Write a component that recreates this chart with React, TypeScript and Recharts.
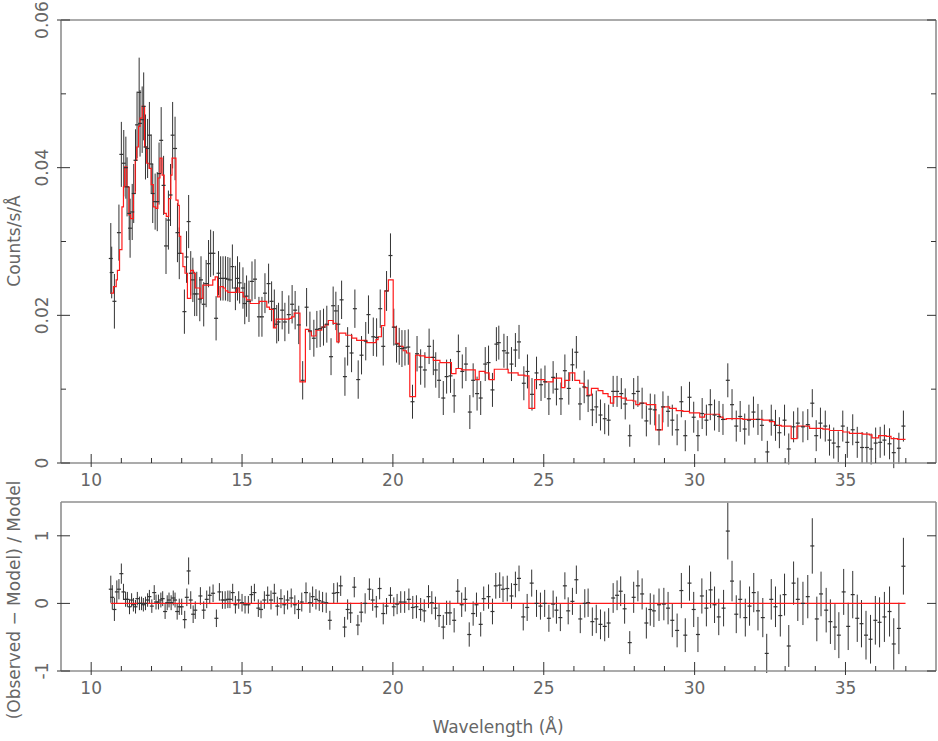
import React from 'react';
import { ComposedChart, Scatter, Line, XAxis, YAxis, ErrorBar } from 'recharts';

// [wavelength (Å), counts/s/Å, 1σ error]
const spectrum: [number, number, number][] = [
  [10.65, 0.0277, 0.0048], [10.68, 0.0258, 0.0035], [10.77, 0.0219, 0.0037], [10.92, 0.0312, 0.0038],
  [11.0, 0.0418, 0.0044], [11.08, 0.0406, 0.0045], [11.15, 0.04, 0.0042], [11.19, 0.0374, 0.004],
  [11.26, 0.0338, 0.0036], [11.29, 0.0318, 0.004], [11.36, 0.034, 0.0038], [11.41, 0.0365, 0.004],
  [11.47, 0.041, 0.0042], [11.52, 0.0458, 0.0045], [11.59, 0.0502, 0.0047], [11.62, 0.046, 0.0045],
  [11.69, 0.0465, 0.0045], [11.74, 0.0483, 0.0046], [11.8, 0.0428, 0.0044], [11.87, 0.0426, 0.004],
  [11.93, 0.0444, 0.0045], [11.99, 0.0405, 0.004], [12.04, 0.0365, 0.004], [12.12, 0.0354, 0.0038],
  [12.19, 0.0354, 0.004], [12.25, 0.0392, 0.0042], [12.32, 0.0437, 0.0045], [12.4, 0.0376, 0.004],
  [12.48, 0.0294, 0.0038], [12.56, 0.0329, 0.004], [12.63, 0.0363, 0.0042], [12.7, 0.0444, 0.0045],
  [12.78, 0.0426, 0.0043], [12.86, 0.0312, 0.004], [12.92, 0.0284, 0.0035], [13.09, 0.0205, 0.003],
  [13.16, 0.0279, 0.0035], [13.23, 0.0327, 0.0036], [13.3, 0.0257, 0.003], [13.37, 0.0248, 0.003],
  [13.43, 0.0229, 0.003], [13.5, 0.0229, 0.003], [13.6, 0.0222, 0.003], [13.64, 0.0248, 0.0032],
  [13.73, 0.0215, 0.003], [13.81, 0.0243, 0.0032], [13.89, 0.027, 0.0032], [13.96, 0.0284, 0.0032],
  [14.05, 0.0284, 0.003], [14.14, 0.0196, 0.003], [14.22, 0.0257, 0.003], [14.29, 0.025, 0.003],
  [14.37, 0.025, 0.003], [14.45, 0.025, 0.003], [14.53, 0.0249, 0.003], [14.6, 0.0248, 0.003],
  [14.68, 0.0266, 0.003], [14.78, 0.0237, 0.003], [14.85, 0.025, 0.003], [14.92, 0.0244, 0.0028],
  [15.03, 0.0237, 0.0028], [15.09, 0.0216, 0.0028], [15.15, 0.0226, 0.0028], [15.23, 0.0219, 0.0028],
  [15.33, 0.0246, 0.0027], [15.43, 0.0249, 0.0027], [15.56, 0.0198, 0.0027], [15.66, 0.0198, 0.0027],
  [15.76, 0.023, 0.0027], [15.88, 0.0243, 0.0027], [15.98, 0.0219, 0.0027], [16.07, 0.0209, 0.0026],
  [16.15, 0.0188, 0.0026], [16.21, 0.0191, 0.0026], [16.33, 0.0207, 0.0026], [16.42, 0.0191, 0.0026],
  [16.55, 0.0201, 0.0026], [16.66, 0.0215, 0.0026], [16.76, 0.0207, 0.0026], [16.88, 0.0187, 0.0026],
  [17.01, 0.0112, 0.0026], [17.14, 0.0211, 0.0026], [17.25, 0.0179, 0.0026], [17.38, 0.0169, 0.0025],
  [17.48, 0.0181, 0.0025], [17.59, 0.0182, 0.0025], [17.7, 0.0184, 0.0025], [17.81, 0.0188, 0.0025],
  [17.95, 0.0144, 0.0025], [18.02, 0.0213, 0.0026], [18.11, 0.0206, 0.0026], [18.19, 0.0188, 0.0026],
  [18.3, 0.0221, 0.0026], [18.41, 0.0117, 0.0026], [18.5, 0.0158, 0.0026], [18.63, 0.0149, 0.0026],
  [18.74, 0.0209, 0.0026], [18.85, 0.0113, 0.0026], [18.96, 0.0146, 0.0026], [19.1, 0.0165, 0.0026],
  [19.19, 0.0201, 0.0026], [19.35, 0.0171, 0.0026], [19.46, 0.017, 0.0026], [19.58, 0.0209, 0.0026],
  [19.68, 0.0158, 0.0026], [19.79, 0.0233, 0.0027], [19.92, 0.0281, 0.003], [20.03, 0.0184, 0.0025],
  [20.12, 0.0161, 0.0025], [20.21, 0.0158, 0.0025], [20.3, 0.0155, 0.0025], [20.4, 0.0156, 0.0024],
  [20.51, 0.0157, 0.0024], [20.65, 0.0083, 0.0023], [20.8, 0.0148, 0.0024], [20.92, 0.013, 0.0024],
  [21.06, 0.0126, 0.0024], [21.2, 0.0158, 0.0024], [21.34, 0.0143, 0.0024], [21.42, 0.0126, 0.0024],
  [21.53, 0.0112, 0.0024], [21.67, 0.0088, 0.0023], [21.78, 0.0117, 0.0023], [21.91, 0.0118, 0.0023],
  [22.03, 0.0091, 0.0023], [22.17, 0.0151, 0.0023], [22.3, 0.0124, 0.0023], [22.42, 0.0134, 0.0023],
  [22.55, 0.0069, 0.0023], [22.66, 0.0112, 0.0023], [22.79, 0.0094, 0.0023], [22.91, 0.0088, 0.0023],
  [23.06, 0.0134, 0.0023], [23.17, 0.0136, 0.0023], [23.3, 0.0099, 0.0023], [23.43, 0.0161, 0.0023],
  [23.51, 0.0163, 0.0023], [23.68, 0.0152, 0.0023], [23.79, 0.0149, 0.0023], [23.93, 0.0134, 0.0023],
  [24.06, 0.0153, 0.0023], [24.18, 0.0164, 0.0023], [24.34, 0.0108, 0.0023], [24.46, 0.0124, 0.0023],
  [24.61, 0.0093, 0.0022], [24.76, 0.0122, 0.0022], [24.91, 0.0106, 0.0022], [25.04, 0.011, 0.0022],
  [25.17, 0.0087, 0.0022], [25.31, 0.0116, 0.0022], [25.42, 0.01, 0.0022], [25.57, 0.0087, 0.0022],
  [25.7, 0.0125, 0.0022], [25.83, 0.0101, 0.0022], [25.95, 0.0133, 0.0022], [26.08, 0.015, 0.0022],
  [26.2, 0.008, 0.0022], [26.34, 0.0103, 0.0022], [26.47, 0.0091, 0.0022], [26.61, 0.0072, 0.0022],
  [26.74, 0.0076, 0.0022], [26.88, 0.0065, 0.0021], [27.02, 0.006, 0.0021], [27.15, 0.0058, 0.0021],
  [27.3, 0.0097, 0.0021], [27.43, 0.0097, 0.0021], [27.57, 0.0094, 0.0021], [27.7, 0.008, 0.0021],
  [27.85, 0.0037, 0.0015], [27.98, 0.0094, 0.0021], [28.12, 0.0097, 0.0021], [28.26, 0.0081, 0.0021],
  [28.4, 0.0057, 0.0021], [28.53, 0.0073, 0.0021], [28.68, 0.0072, 0.0021], [28.82, 0.0045, 0.0021],
  [28.95, 0.0076, 0.0021], [29.12, 0.007, 0.0021], [29.26, 0.0058, 0.0021], [29.42, 0.0045, 0.0021],
  [29.56, 0.0083, 0.0021], [29.69, 0.0037, 0.0021], [29.83, 0.0089, 0.0021], [29.97, 0.0062, 0.0021],
  [30.11, 0.0037, 0.0021], [30.25, 0.0067, 0.0021], [30.39, 0.0058, 0.0021], [30.52, 0.0079, 0.0021],
  [30.66, 0.0065, 0.0021], [30.81, 0.0063, 0.0021], [30.94, 0.0059, 0.0021], [31.1, 0.0112, 0.0023],
  [31.24, 0.0079, 0.0021], [31.38, 0.005, 0.0021], [31.51, 0.0063, 0.0021], [31.66, 0.0046, 0.0021],
  [31.8, 0.0058, 0.0021], [31.95, 0.0069, 0.0021], [32.1, 0.0059, 0.0021], [32.23, 0.0051, 0.0021],
  [32.41, 0.0015, 0.0015], [32.54, 0.0058, 0.0021], [32.68, 0.0051, 0.0021], [32.81, 0.0041, 0.0021],
  [32.98, 0.0058, 0.0021], [33.12, 0.0019, 0.0021], [33.28, 0.0049, 0.0021], [33.42, 0.0054, 0.0021],
  [33.59, 0.0049, 0.0021], [33.75, 0.0052, 0.0021], [33.9, 0.0081, 0.0019], [34.03, 0.0037, 0.0021],
  [34.17, 0.0054, 0.0021], [34.33, 0.005, 0.0021], [34.47, 0.0031, 0.0021], [34.61, 0.0027, 0.0021],
  [34.76, 0.0022, 0.0021], [34.91, 0.005, 0.0021], [35.06, 0.0028, 0.0021], [35.24, 0.0045, 0.0021],
  [35.39, 0.0028, 0.0021], [35.55, 0.0021, 0.0021], [35.71, 0.0021, 0.0021], [35.85, 0.0019, 0.0021],
  [36.0, 0.0027, 0.0021], [36.15, 0.0028, 0.0021], [36.29, 0.0031, 0.0021], [36.46, 0.0026, 0.0021],
  [36.6, 0.0014, 0.0021], [36.77, 0.002, 0.0021], [36.92, 0.005, 0.0021],
];

// model histogram: [bin start (Å), counts/s/Å]
const model: [number, number][] = [
  [10.65, 0.023], [10.74, 0.0239], [10.83, 0.0248], [10.87, 0.0261], [10.94, 0.0289], [11.02, 0.0347],
  [11.07, 0.0374], [11.11, 0.0401], [11.18, 0.0374], [11.25, 0.0336], [11.31, 0.0331], [11.4, 0.0365],
  [11.46, 0.041], [11.51, 0.0428], [11.57, 0.0456], [11.62, 0.0467], [11.69, 0.0483], [11.77, 0.0428],
  [11.84, 0.0406], [11.92, 0.0399], [11.99, 0.0377], [12.06, 0.0347], [12.14, 0.0345], [12.21, 0.0386],
  [12.28, 0.0413], [12.35, 0.039], [12.42, 0.0338], [12.49, 0.0334], [12.57, 0.0358], [12.64, 0.039],
  [12.68, 0.0413], [12.81, 0.0356], [12.88, 0.0349], [12.92, 0.0307], [12.97, 0.0284], [13.04, 0.0266],
  [13.11, 0.0257], [13.19, 0.0223], [13.3, 0.0261], [13.39, 0.0257], [13.45, 0.0237], [13.61, 0.0223],
  [13.7, 0.0241], [14.03, 0.0248], [14.11, 0.0252], [14.19, 0.0225], [14.27, 0.0239], [14.38, 0.0237],
  [14.45, 0.0233], [14.53, 0.0231], [14.82, 0.0237], [14.9, 0.0231], [15.04, 0.0225], [15.15, 0.0221],
  [15.27, 0.0216], [15.57, 0.0219], [15.82, 0.0211], [15.91, 0.0208], [16.04, 0.0183], [16.13, 0.0195],
  [16.57, 0.0196], [16.64, 0.0198], [16.73, 0.0203], [16.92, 0.011], [17.1, 0.0181], [17.21, 0.0178],
  [17.3, 0.0172], [17.45, 0.018], [17.64, 0.0184], [17.75, 0.0187], [17.86, 0.0193], [18.02, 0.0189],
  [18.14, 0.0164], [18.22, 0.0176], [18.44, 0.0173], [18.64, 0.0169], [18.8, 0.0166], [19.13, 0.0163],
  [19.44, 0.0167], [19.51, 0.0171], [19.62, 0.0186], [19.73, 0.0233], [19.85, 0.0248], [20.01, 0.0184],
  [20.1, 0.0162], [20.21, 0.0158], [20.34, 0.0152], [20.45, 0.0149], [20.56, 0.009], [20.75, 0.0146],
  [20.89, 0.0145], [21.06, 0.0143], [21.34, 0.0139], [21.56, 0.0136], [21.94, 0.0121], [22.09, 0.0128],
  [22.27, 0.0126], [22.73, 0.0113], [22.86, 0.0124], [23.05, 0.0122], [23.19, 0.0113], [23.36, 0.0127],
  [23.82, 0.0122], [24.15, 0.0119], [24.37, 0.0118], [24.51, 0.0074], [24.7, 0.0113], [25.03, 0.011],
  [25.31, 0.0115], [25.59, 0.0102], [25.7, 0.0112], [25.86, 0.0122], [26.03, 0.0112], [26.19, 0.0108],
  [26.33, 0.0102], [26.44, 0.0092], [26.58, 0.0101], [26.8, 0.0098], [26.96, 0.0094], [27.13, 0.009],
  [27.21, 0.0081], [27.32, 0.009], [27.57, 0.0088], [27.74, 0.0085], [27.96, 0.0084], [28.05, 0.0079],
  [28.18, 0.0081], [28.4, 0.0079], [28.71, 0.0045], [28.93, 0.0076], [29.17, 0.0074], [29.39, 0.0071],
  [29.61, 0.007], [29.83, 0.0068], [30.17, 0.0062], [30.33, 0.0066], [30.83, 0.0062], [30.94, 0.0059],
  [31.05, 0.006], [31.6, 0.0059], [32.26, 0.0058], [32.48, 0.0056], [32.65, 0.0051], [32.87, 0.005],
  [33.2, 0.0033], [33.39, 0.005], [33.81, 0.0047], [34.25, 0.0046], [34.47, 0.0044], [34.91, 0.0042],
  [35.13, 0.004], [35.57, 0.0039], [35.79, 0.0038], [35.88, 0.0034], [36.1, 0.0037], [36.35, 0.0036],
  [36.51, 0.0033], [36.73, 0.0032], [36.99, 0.0032],
];

// [wavelength (Å), (observed - model) / model, error]
const residuals: [number, number, number][] = [
  [10.65, 0.21, 0.2], [10.7, 0.09, 0.18], [10.77, -0.09, 0.17], [10.85, 0.17, 0.17], [10.92, 0.21, 0.15],
  [11.0, 0.44, 0.15], [11.07, 0.17, 0.12], [11.14, 0.06, 0.11], [11.2, 0.06, 0.11], [11.27, -0.05, 0.11],
  [11.34, 0.05, 0.1], [11.4, -0.02, 0.1], [11.47, -0.05, 0.1], [11.53, 0.07, 0.1], [11.6, 0.0, 0.1],
  [11.67, 0.0, 0.1], [11.73, -0.02, 0.1], [11.8, 0.0, 0.1], [11.87, 0.05, 0.1], [11.93, 0.1, 0.1],
  [12.01, -0.04, 0.1], [12.09, 0.16, 0.11], [12.15, 0.02, 0.11], [12.23, 0.02, 0.11], [12.31, 0.05, 0.11],
  [12.37, 0.07, 0.11], [12.45, -0.12, 0.11], [12.52, 0.01, 0.11], [12.58, 0.05, 0.11], [12.65, 0.01, 0.11],
  [12.72, 0.08, 0.11], [12.78, 0.05, 0.11], [12.85, -0.12, 0.12], [12.92, -0.05, 0.12], [13.0, -0.05, 0.12],
  [13.1, -0.24, 0.13], [13.17, 0.09, 0.13], [13.23, 0.48, 0.2], [13.3, 0.05, 0.13], [13.38, -0.16, 0.13],
  [13.45, -0.1, 0.13], [13.62, 0.11, 0.13], [13.73, -0.1, 0.13], [13.83, 0.06, 0.13], [13.93, 0.12, 0.13],
  [14.04, 0.15, 0.13], [14.15, -0.22, 0.13], [14.25, 0.17, 0.13], [14.35, 0.05, 0.13], [14.44, 0.05, 0.13],
  [14.53, 0.06, 0.13], [14.6, 0.06, 0.13], [14.69, 0.16, 0.13], [14.78, -0.02, 0.13], [14.89, 0.05, 0.13],
  [15.0, 0.01, 0.13], [15.1, -0.02, 0.13], [15.21, -0.02, 0.13], [15.31, 0.13, 0.13], [15.41, 0.16, 0.13],
  [15.54, -0.07, 0.13], [15.63, -0.09, 0.13], [15.74, 0.05, 0.13], [15.85, 0.12, 0.13], [15.96, 0.05, 0.14],
  [16.07, 0.15, 0.14], [16.17, -0.04, 0.14], [16.29, 0.07, 0.14], [16.4, -0.02, 0.14], [16.51, 0.05, 0.14],
  [16.63, 0.08, 0.14], [16.75, -0.02, 0.14], [16.87, -0.09, 0.14], [16.98, 0.02, 0.14], [17.12, 0.16, 0.15],
  [17.25, 0.01, 0.15], [17.34, 0.1, 0.15], [17.45, 0.06, 0.15], [17.56, 0.04, 0.15], [17.67, 0.02, 0.15],
  [17.79, 0.01, 0.15], [17.91, -0.25, 0.14], [18.04, 0.15, 0.15], [18.16, 0.16, 0.15], [18.27, 0.26, 0.15],
  [18.4, -0.35, 0.15], [18.5, -0.09, 0.15], [18.6, -0.14, 0.15], [18.72, 0.24, 0.15], [18.84, -0.32, 0.15],
  [18.95, -0.13, 0.15], [19.08, 0.0, 0.15], [19.22, 0.21, 0.16], [19.33, 0.05, 0.16], [19.45, -0.05, 0.16],
  [19.56, 0.22, 0.16], [19.68, -0.15, 0.16], [19.79, -0.04, 0.12], [19.92, 0.12, 0.12], [20.03, -0.05, 0.14],
  [20.14, -0.01, 0.15], [20.26, 0.02, 0.16], [20.39, 0.02, 0.16], [20.53, 0.06, 0.16], [20.66, -0.06, 0.17],
  [20.78, -0.05, 0.17], [20.92, -0.09, 0.17], [21.04, -0.11, 0.17], [21.18, 0.1, 0.17], [21.29, 0.01, 0.17],
  [21.41, -0.07, 0.17], [21.53, -0.18, 0.17], [21.67, -0.35, 0.18], [21.78, -0.14, 0.18], [21.89, -0.14, 0.18],
  [22.03, -0.25, 0.18], [22.15, 0.18, 0.18], [22.28, -0.02, 0.18], [22.4, 0.06, 0.18], [22.53, -0.46, 0.18],
  [22.66, -0.15, 0.18], [22.77, -0.02, 0.18], [22.91, -0.31, 0.18], [23.01, 0.07, 0.18], [23.17, 0.1, 0.18],
  [23.3, -0.12, 0.19], [23.41, 0.26, 0.19], [23.54, 0.27, 0.19], [23.65, 0.21, 0.19], [23.79, 0.22, 0.19],
  [23.93, 0.11, 0.19], [24.06, 0.28, 0.19], [24.18, 0.37, 0.19], [24.32, -0.2, 0.2], [24.45, -0.06, 0.2],
  [24.6, 0.3, 0.2], [24.76, 0.0, 0.2], [24.89, -0.04, 0.2], [25.03, 0.0, 0.2], [25.17, -0.22, 0.2],
  [25.31, -0.01, 0.2], [25.42, -0.1, 0.2], [25.55, -0.21, 0.2], [25.7, 0.26, 0.2], [25.81, -0.11, 0.2],
  [25.95, 0.03, 0.2], [26.08, 0.35, 0.21], [26.21, -0.23, 0.21], [26.36, 0.0, 0.21], [26.47, 0.01, 0.21],
  [26.61, -0.27, 0.21], [26.74, -0.23, 0.21], [26.88, -0.31, 0.22], [27.02, -0.34, 0.22], [27.15, -0.29, 0.22],
  [27.3, 0.08, 0.22], [27.43, 0.12, 0.22], [27.55, 0.18, 0.22], [27.68, -0.08, 0.22], [27.85, -0.58, 0.17],
  [27.98, 0.09, 0.23], [28.12, 0.26, 0.23], [28.26, 0.14, 0.23], [28.4, -0.29, 0.23], [28.53, -0.09, 0.24],
  [28.65, -0.11, 0.24], [28.82, -0.02, 0.24], [28.98, -0.01, 0.24], [29.12, -0.07, 0.24], [29.26, -0.25, 0.25],
  [29.42, -0.4, 0.25], [29.56, 0.19, 0.26], [29.69, -0.47, 0.25], [29.83, 0.3, 0.26], [29.97, -0.09, 0.26],
  [30.11, -0.46, 0.26], [30.24, 0.11, 0.26], [30.39, -0.07, 0.27], [30.53, 0.2, 0.27], [30.66, -0.02, 0.27],
  [30.8, -0.2, 0.27], [30.96, -0.07, 0.27], [31.1, 1.07, 0.42], [31.24, 0.33, 0.3], [31.38, -0.16, 0.28],
  [31.51, 0.06, 0.28], [31.68, -0.21, 0.28], [31.82, -0.04, 0.29], [31.96, 0.16, 0.29], [32.1, -0.11, 0.29],
  [32.26, -0.21, 0.29], [32.39, -0.74, 0.29], [32.54, 0.06, 0.3], [32.68, -0.05, 0.3], [32.84, -0.18, 0.31],
  [32.98, 0.13, 0.31], [33.12, -0.63, 0.31], [33.28, 0.3, 0.32], [33.42, 0.06, 0.32], [33.59, 0.0, 0.32],
  [33.75, 0.1, 0.32], [33.9, 0.85, 0.41], [34.05, -0.23, 0.33], [34.19, 0.14, 0.33], [34.36, -0.1, 0.33],
  [34.5, -0.27, 0.33], [34.65, -0.35, 0.34], [34.78, -0.47, 0.34], [34.94, 0.17, 0.34], [35.09, -0.34, 0.35],
  [35.24, 0.13, 0.35], [35.39, -0.22, 0.35], [35.53, -0.3, 0.35], [35.68, -0.47, 0.36], [35.83, -0.53, 0.36],
  [35.99, -0.25, 0.36], [36.13, -0.28, 0.37], [36.29, -0.2, 0.37], [36.46, -0.12, 0.37], [36.6, -0.6, 0.38],
  [36.77, -0.37, 0.38], [36.92, 0.55, 0.42],
];

const waveTicks = [10, 11, 12, 13, 14, 15, 16, 17, 18, 19, 20, 21, 22, 23, 24, 25, 26, 27, 28, 29, 30, 31, 32, 33, 34, 35, 36, 37];
const waveLabels = [10, 15, 20, 25, 30, 35];
const fluxTicks = [0, 0.01, 0.02, 0.03, 0.04, 0.05, 0.06];
const fluxLabels = [0, 0.02, 0.04, 0.06];
const ratioTicks = [-1, 0, 1];

const INK = '#333';
const FRAME = '#8f8f8f';
const TEXT = '#666';
const RED = '#ff1a1a';
const FONT = '"DejaVu Sans", sans-serif';

const specData = spectrum.map(([x, y, e]) => ({ x, y, e }));
const modelData = model.map(([x, y]) => ({ x, y }));
const resData = residuals.map(([x, y, e]) => ({ x, y, e }));
// ratio of 1 (zero residual) over the span of the model
const unityData = [
  { x: model[0][0], y: 0 },
  { x: model[model.length - 1][0], y: 0 },
];

const hasTick = (list: number[], v: number) => list.some((t) => Math.abs(t - v) < 1e-9);
const axisLine = { stroke: FRAME, strokeWidth: 1.6 };

const bottomTick = (p: any) => {
  const major = hasTick(waveLabels, p.payload.value);
  return (
    <g>
      <line x1={p.x} x2={p.x} y1={p.y + (major ? 4 : 0)} y2={p.y - (major ? 9 : 5)} stroke={INK} />
      {major && (
        <text x={p.x} y={p.y + 23} textAnchor="middle" fill={TEXT} fontSize={17} fontFamily={FONT}>
          {p.payload.value}
        </text>
      )}
    </g>
  );
};

const topTick = (p: any) => {
  const major = hasTick(waveLabels, p.payload.value);
  return <line x1={p.x} x2={p.x} y1={p.y} y2={p.y + (major ? 9 : 5)} stroke={INK} />;
};

const leftTick = (labels: number[]) => (p: any) => {
  const major = hasTick(labels, p.payload.value);
  const tx = p.x - 19;
  return (
    <g>
      <line x1={p.x - (major ? 4 : 0)} x2={p.x + (major ? 9 : 5)} y1={p.y} y2={p.y} stroke={INK} />
      {major && (
        <text x={tx} y={p.y} dy="0.36em" transform={`rotate(-90 ${tx} ${p.y})`} textAnchor="middle"
          fill={TEXT} fontSize={17} fontFamily={FONT}>
          {String(p.payload.value)}
        </text>
      )}
    </g>
  );
};

const rightTick = (labels: number[]) => (p: any) => {
  const major = hasTick(labels, p.payload.value);
  return <line x1={p.x} x2={p.x - (major ? 9 : 5)} y1={p.y} y2={p.y} stroke={INK} />;
};

const crossbar = (p: any) => (
  <line x1={p.cx - 2} x2={p.cx + 2} y1={p.cy} y2={p.cy} stroke={INK} strokeWidth={1.2} />
);

const sideLabel = (text: string, left: number, top: number, rotate: boolean) => (
  <div
    style={{
      position: 'absolute', left, top, whiteSpace: 'nowrap', color: TEXT, fontFamily: FONT, fontSize: 17,
      transform: `translate(-50%, -50%)${rotate ? ' rotate(-90deg)' : ''}`,
    }}
  >
    {text}
  </div>
);

export default function App() {
  return (
    <div style={{ position: 'absolute', left: 0, top: 0, width: 938, height: 741, background: '#fff' }}>
      <div style={{ position: 'absolute', left: 0, top: 0 }}>
        <ComposedChart width={938} height={500} margin={{ top: 19, right: 1, bottom: 7, left: 21 }}>
          <XAxis dataKey="x" type="number" domain={[9, 38]} ticks={waveTicks} interval={0} allowDataOverflow
            height={30} tickSize={0} tickMargin={0} tickLine={false} axisLine={axisLine} tick={bottomTick} />
          <XAxis xAxisId="top" orientation="top" type="number" domain={[9, 38]} ticks={waveTicks} interval={0}
            allowDataOverflow height={1} tickSize={0} tickMargin={0} tickLine={false} axisLine={axisLine} tick={topTick} />
          <YAxis type="number" domain={[0, 0.06]} ticks={fluxTicks} interval={0} allowDataOverflow width={40}
            tickSize={0} tickMargin={0} tickLine={false} axisLine={axisLine} tick={leftTick(fluxLabels)} />
          <YAxis yAxisId="right" orientation="right" type="number" domain={[0, 0.06]} ticks={fluxTicks} interval={0}
            allowDataOverflow width={1} tickSize={0} tickMargin={0} tickLine={false} axisLine={axisLine}
            tick={rightTick(fluxLabels)} />
          <Scatter data={specData} dataKey="y" shape={crossbar} isAnimationActive={false}>
            <ErrorBar dataKey="e" direction="y" width={0} stroke={INK} strokeWidth={1} isAnimationActive={false} />
          </Scatter>
          <Line data={modelData} dataKey="y" type="stepAfter" stroke={RED} strokeWidth={1.2} dot={false}
            activeDot={false} isAnimationActive={false} />
        </ComposedChart>
      </div>
      <div style={{ position: 'absolute', left: 0, top: 482 }}>
        <ComposedChart width={938} height={230} margin={{ top: 19, right: 1, bottom: 11, left: 21 }}>
          <XAxis dataKey="x" type="number" domain={[9, 38]} ticks={waveTicks} interval={0} allowDataOverflow
            height={30} tickSize={0} tickMargin={0} tickLine={false} axisLine={axisLine} tick={bottomTick} />
          <XAxis xAxisId="top" orientation="top" type="number" domain={[9, 38]} ticks={waveTicks} interval={0}
            allowDataOverflow height={1} tickSize={0} tickMargin={0} tickLine={false} axisLine={axisLine} tick={topTick} />
          <YAxis type="number" domain={[-1, 1.5]} ticks={ratioTicks} interval={0} allowDataOverflow width={40}
            tickSize={0} tickMargin={0} tickLine={false} axisLine={axisLine} tick={leftTick(ratioTicks)} />
          <YAxis yAxisId="right" orientation="right" type="number" domain={[-1, 1.5]} ticks={ratioTicks} interval={0}
            allowDataOverflow width={1} tickSize={0} tickMargin={0} tickLine={false} axisLine={axisLine}
            tick={rightTick(ratioTicks)} />
          <Scatter data={resData} dataKey="y" shape={crossbar} isAnimationActive={false}>
            <ErrorBar dataKey="e" direction="y" width={0} stroke={INK} strokeWidth={1} isAnimationActive={false} />
          </Scatter>
          <Line data={unityData} dataKey="y" type="linear" stroke={RED} strokeWidth={1.2} dot={false}
            activeDot={false} isAnimationActive={false} />
        </ComposedChart>
      </div>
      {sideLabel('Counts/s/Å', 14, 241, true)}
      {sideLabel('(Observed − Model) / Model', 14, 600, true)}
      {sideLabel('Wavelength (Å)', 498, 727, false)}
    </div>
  );
}
